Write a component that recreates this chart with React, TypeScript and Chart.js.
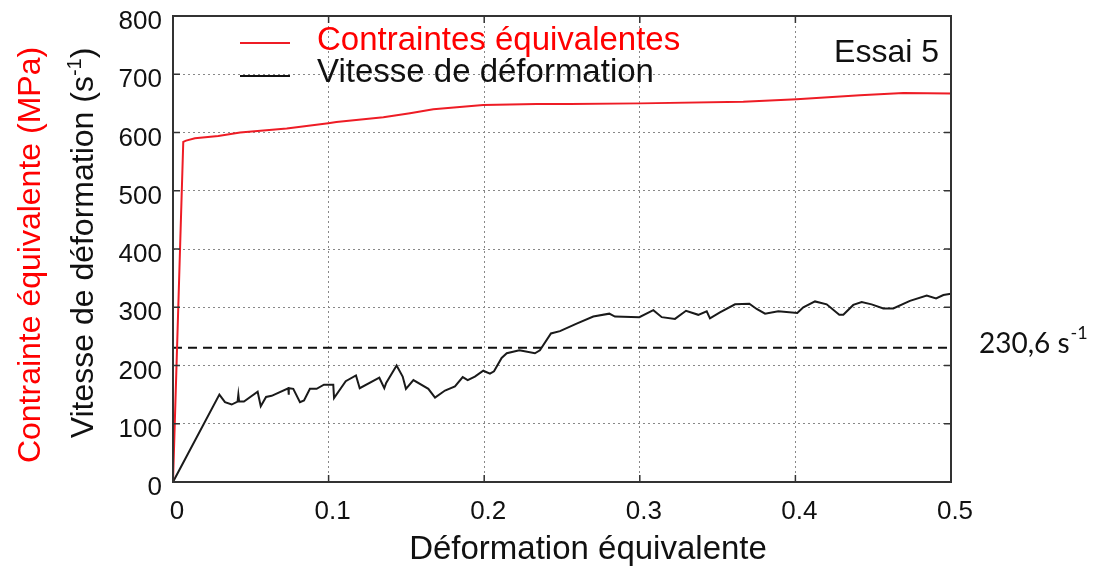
import React, { useEffect, useRef } from "react";
import { Chart, registerables } from "chart.js";

Chart.register(...registerables);

// ---- data ----
const rateStrain = [0, 0.0298, 0.0334, 0.0377, 0.0415, 0.042, 0.0425, 0.0456, 0.0544, 0.0564, 0.0598, 0.0634, 0.0741, 0.0743, 0.0745, 0.0773, 0.0816, 0.0842, 0.088, 0.0923, 0.097, 0.103, 0.1035, 0.111, 0.1176, 0.12, 0.1326, 0.1358, 0.137, 0.1437, 0.1476, 0.1497, 0.1545, 0.1641, 0.1684, 0.1748, 0.1812, 0.1862, 0.1894, 0.194, 0.1994, 0.2037, 0.2063, 0.2112, 0.2145, 0.2226, 0.2326, 0.2358, 0.2429, 0.2487, 0.2594, 0.2701, 0.2804, 0.284, 0.2997, 0.3087, 0.3141, 0.3226, 0.3297, 0.3376, 0.343, 0.3451, 0.3515, 0.3612, 0.3704, 0.3751, 0.3805, 0.389, 0.4012, 0.4051, 0.4126, 0.4201, 0.4282, 0.4308, 0.4372, 0.4426, 0.449, 0.4565, 0.4629, 0.4736, 0.4844, 0.4904, 0.4951, 0.5];
const rateValues = [0, 150, 137, 133, 138, 150, 138, 138, 155, 130, 146, 148, 161, 150, 161, 160, 137, 140, 160, 160, 167, 167, 144, 173, 183, 161, 179, 161, 170, 200, 181, 160, 175, 160, 145, 157, 164, 180, 175, 181, 191, 186, 190, 213, 221, 226, 221, 226, 255, 259, 272, 284, 289, 284, 283, 295, 283, 280, 294, 287, 293, 281, 291, 305, 306, 297, 289, 293, 290, 300, 310, 305, 287, 287, 304, 309, 305, 298, 298, 311, 320, 315, 321, 323];

const stressStrain = [0, 0.0066, 0.0084, 0.0141, 0.0291, 0.0431, 0.0731, 0.0998, 0.105, 0.1352, 0.1523, 0.1673, 0.1994, 0.2337, 0.2551, 0.3001, 0.3665, 0.4008, 0.4415, 0.4694, 0.5];
const stressValues = [0, 584, 586, 590, 594, 600, 607, 616, 618, 626, 633, 640, 647, 649, 649, 650, 653, 657, 664, 668, 667];

const meanRate = 230.6;
const meanRateLabel = "230,6 s";
const xTickValues = [0, 0.1, 0.2, 0.3, 0.4, 0.5];
const yTickValues = [0, 100, 200, 300, 400, 500, 600, 700, 800];

const seriesNames = ["Contraintes équivalentes", "Vitesse de déformation"];
const yTitleStress = "Contrainte équivalente (MPa)";
const yTitleRate = "Vitesse de déformation (s";
const xTitle = "Déformation équivalente";
const testLabel = "Essai 5";

const RED_TEXT = "#ff0000";
const RED_LINE = "#ee1c25";
const BLACK = "#111111";
const FONT = "'Liberation Sans', Arial, sans-serif";

const decorPlugin = {
  id: "decor",
  afterDraw(chart: any) {
    const { ctx, chartArea } = chart;
    const { left, right, top, bottom } = chartArea;
    const xs = chart.scales.x;
    const ys = chart.scales.y;
    ctx.save();
    // frame
    ctx.strokeStyle = "#333";
    ctx.lineWidth = 2;
    ctx.setLineDash([]);
    ctx.strokeRect(left, top, right - left, bottom - top);
    // inward ticks
    ctx.lineWidth = 1.5;
    const tl = 7;
    xTickValues.forEach((v) => {
      const px = xs.getPixelForValue(v);
      ctx.beginPath();
      ctx.moveTo(px, bottom);
      ctx.lineTo(px, bottom - tl);
      ctx.moveTo(px, top);
      ctx.lineTo(px, top + tl);
      ctx.stroke();
    });
    yTickValues.forEach((v) => {
      const py = ys.getPixelForValue(v);
      ctx.beginPath();
      ctx.moveTo(left, py);
      ctx.lineTo(left + tl, py);
      ctx.moveTo(right, py);
      ctx.lineTo(right - tl, py);
      ctx.stroke();
    });

    // legend
    ctx.lineWidth = 2;
    ctx.strokeStyle = RED_LINE;
    ctx.beginPath();
    ctx.moveTo(240, 43);
    ctx.lineTo(290, 43);
    ctx.stroke();
    ctx.strokeStyle = BLACK;
    ctx.beginPath();
    ctx.moveTo(240, 76);
    ctx.lineTo(290, 76);
    ctx.stroke();
    ctx.font = `33px ${FONT}`;
    ctx.textAlign = "left";
    ctx.textBaseline = "alphabetic";
    ctx.fillStyle = RED_TEXT;
    ctx.fillText(seriesNames[0], 317, 50);
    ctx.fillStyle = BLACK;
    ctx.fillText(seriesNames[1], 317, 82);

    // test label
    ctx.font = `32px ${FONT}`;
    ctx.textAlign = "right";
    ctx.fillText(testLabel, 939, 62);

    // x title
    ctx.font = `33px ${FONT}`;
    ctx.textAlign = "center";
    ctx.fillText(xTitle, 588, 559);

    // y titles (rotated)
    ctx.save();
    ctx.translate(40, 255);
    ctx.rotate(-Math.PI / 2);
    ctx.textAlign = "center";
    ctx.fillStyle = RED_TEXT;
    ctx.font = `32px ${FONT}`;
    ctx.fillText(yTitleStress, 0, 0);
    ctx.restore();

    ctx.save();
    ctx.translate(93, 243);
    ctx.rotate(-Math.PI / 2);
    ctx.fillStyle = BLACK;
    ctx.textAlign = "left";
    const big = `32px ${FONT}`;
    const small = `20px ${FONT}`;
    ctx.font = big;
    const w1 = ctx.measureText(yTitleRate).width;
    const w3 = ctx.measureText(")").width;
    ctx.font = small;
    const w2 = ctx.measureText("-1").width;
    const total = w1 + w2 + w3;
    let u = -total / 2;
    ctx.font = big;
    ctx.fillText(yTitleRate, u, 0);
    u += w1;
    ctx.font = small;
    ctx.fillText("-1", u, -12);
    u += w2;
    ctx.font = big;
    ctx.fillText(")", u, 0);
    ctx.restore();

    // mean rate label
    ctx.fillStyle = BLACK;
    ctx.textAlign = "left";
    ctx.font = `28px Lato, 'Open Sans', sans-serif`;
    ctx.fillText(meanRateLabel, 979, 353);
    const wl = ctx.measureText(meanRateLabel).width;
    ctx.font = `18px Lato, 'Open Sans', sans-serif`;
    ctx.fillText("-1", 979 + wl + 1, 339);

    ctx.restore();
  },
};

export default function App() {
  const ref = useRef<HTMLCanvasElement | null>(null);
  useEffect(() => {
    if (!ref.current) return;
    const chart = new Chart(ref.current, {
      type: "line",
      data: {
        datasets: [
          {
            label: seriesNames[0],
            data: stressStrain.map((x, i) => ({ x, y: stressValues[i] })),
            borderColor: RED_LINE,
            borderWidth: 2,
            pointRadius: 0,
            tension: 0,
            fill: false,
          },
          {
            label: seriesNames[1],
            data: rateStrain.map((x, i) => ({ x, y: rateValues[i] })),
            borderColor: "#1a1a1a",
            borderWidth: 2,
            pointRadius: 0,
            tension: 0,
            fill: false,
          },
          {
            label: "mean",
            data: [
              { x: xTickValues[0], y: meanRate },
              { x: xTickValues[xTickValues.length - 1], y: meanRate },
            ],
            borderColor: "#111",
            borderWidth: 2,
            borderDash: [9, 6],
            pointRadius: 0,
            fill: false,
          },
        ],
      },
      options: {
        responsive: false,
        animation: false,
        devicePixelRatio: 1,
        layout: { padding: { top: 16, right: 145, left: 0, bottom: 0 } },
        plugins: { legend: { display: false }, tooltip: { enabled: false } },
        scales: {
          x: {
            type: "linear",
            min: 0,
            max: 0.5,
            afterFit: (s: any) => {
              s.height = 84;
              s.paddingLeft = 0;
              s.paddingRight = 0;
            },
            afterBuildTicks: (s: any) => {
              s.ticks = xTickValues.map((v) => ({ value: v }));
            },
            ticks: {
              color: BLACK,
              font: { family: FONT, size: 26 },
              padding: 14,
              labelOffset: 4,
              maxRotation: 0,
              callback: (v: any) => String(v),
            },
            grid: { color: "#888", lineWidth: 1, drawTicks: false },
            border: { display: false, dash: [2, 3] },
          },
          y: {
            min: 0,
            max: 800,
            afterFit: (s: any) => {
              s.width = 173;
              s.paddingTop = 0;
              s.paddingBottom = 0;
            },
            afterBuildTicks: (s: any) => {
              s.ticks = yTickValues.map((v) => ({ value: v }));
            },
            ticks: {
              color: BLACK,
              font: { family: FONT, size: 26 },
              padding: 11,
              labelOffset: 6,
            },
            grid: { color: "#888", lineWidth: 1, drawTicks: false },
            border: { display: false, dash: [2, 3] },
          },
        },
      },
      plugins: [decorPlugin],
    });
    return () => chart.destroy();
  }, []);
  return (
    <div style={{ position: "absolute", left: 0, top: 0, width: 1096, height: 566, background: "#fff" }}>
      <canvas ref={ref} width={1096} height={566} style={{ display: "block" }} />
    </div>
  );
}
